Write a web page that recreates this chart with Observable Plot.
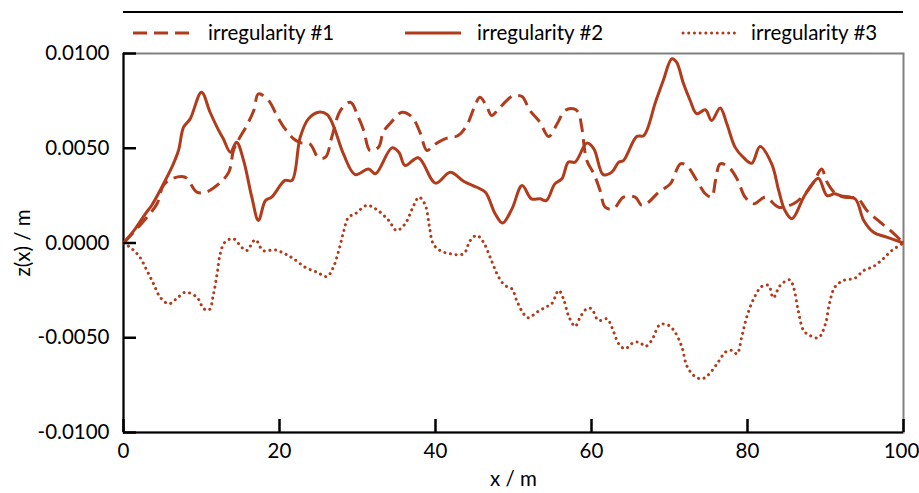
<!DOCTYPE html>
<html>
<head>
<meta charset="utf-8">
<script src="https://cdn.jsdelivr.net/npm/d3@7"></script>
<script src="https://cdn.jsdelivr.net/npm/@observablehq/plot@0.6"></script>
<style>
  html, body { margin: 0; padding: 0; background: #fff; }
  #wrap { position: relative; width: 919px; height: 493px; }
  #legend { position: absolute; left: 0; top: 0; }
  #chart { position: absolute; left: 0; top: 0; }
  svg { font-family: Lato, "Open Sans", sans-serif; }
</style>
</head>
<body>
<div id="wrap">
<div id="chart"></div>
<div id="legend"></div>
</div>
<script>
// ---- data (x in m, z in m) ----
const seriesNames = ["irregularity #1", "irregularity #2", "irregularity #3"];

const x1 = [0, 1.3, 3.0, 4.3, 5.1, 6.2, 7.9, 9.4, 10.55, 12.2, 13.5, 14.1, 14.7, 15.8, 16.7, 17.3, 18.6, 19.65, 20.7, 21.8, 22.65, 23.9, 25.0, 25.9, 26.7, 27.8, 29.1, 30.1, 30.8, 31.6, 32.7, 33.3, 34.2, 35.7, 37.0, 38.0, 38.9, 39.7, 41.2, 42.9, 44.0, 44.9, 45.7, 46.6, 47.2, 48.1, 49.6, 50.2, 51.1, 52.1, 53.4, 54.5, 55.6, 56.6, 57.7, 58.3, 58.75, 59.4, 60.3, 61.1, 61.75, 62.8, 64.1, 65.6, 66.45, 67.3, 68.6, 70.1, 71.4, 72.2, 73.5, 74.6, 75.4, 75.9, 76.5, 77.6, 78.65, 79.7, 80.8, 82.3, 84.0, 85.9, 87.4, 88.5, 89.5, 90.2, 91.45, 93.2, 94.2, 95.3, 97.0, 98.3, 100];
const z1 = [0, 0.00057, 0.00136, 0.00207, 0.00303, 0.00339, 0.00347, 0.00268, 0.00268, 0.00312, 0.00374, 0.00488, 0.00541, 0.0062, 0.00699, 0.00787, 0.00752, 0.00673, 0.00603, 0.0055, 0.00530, 0.00523, 0.00450, 0.00453, 0.00558, 0.00699, 0.00743, 0.00664, 0.00594, 0.00488, 0.00506, 0.00585, 0.00632, 0.0069, 0.00664, 0.00585, 0.00488, 0.00515, 0.0055, 0.00567, 0.0062, 0.00708, 0.00769, 0.00717, 0.00673, 0.00708, 0.00769, 0.00778, 0.00773, 0.00699, 0.00637, 0.00562, 0.00629, 0.00699, 0.00708, 0.0069, 0.00611, 0.00435, 0.00365, 0.00277, 0.00189, 0.0018, 0.00242, 0.00242, 0.00198, 0.00215, 0.00268, 0.00312, 0.00418, 0.00409, 0.0033, 0.0026, 0.00242, 0.0033, 0.00418, 0.004, 0.00339, 0.00242, 0.00207, 0.00242, 0.00189, 0.00207, 0.0026, 0.00321, 0.0039, 0.00321, 0.00256, 0.00242, 0.00233, 0.00172, 0.0011, 0.00066, 0];

const x2 = [0, 1.5, 2.8, 3.6, 4.9, 6.2, 7.05, 7.7, 8.55, 10.0, 11.1, 12.2, 12.8, 13.7, 14.5, 15.4, 16.45, 17.3, 18.2, 19.0, 20.7, 21.6, 22.65, 23.7, 25.0, 26.1, 26.9, 28.2, 29.7, 31.4, 32.3, 34.4, 35.3, 36.1, 37.8, 40.0, 41.9, 43.6, 45.3, 46.4, 47.65, 48.6, 49.8, 51.1, 52.3, 53.4, 54.2, 55.3, 56.2, 57.05, 57.9, 59.4, 60.3, 61.5, 62.6, 63.5, 64.1, 65.8, 66.7, 68.2, 69.2, 70.3, 70.9, 71.8, 72.65, 73.5, 74.6, 75.4, 76.5, 77.35, 78.4, 79.5, 80.55, 81.6, 83.1, 84.0, 84.8, 85.7, 87.2, 88.3, 89.1, 90.2, 91.2, 92.3, 93.8, 94.9, 96.15, 97.85, 100];
const z2 = [0, 0.00075, 0.00154, 0.00198, 0.00294, 0.0040, 0.00488, 0.00611, 0.00655, 0.00796, 0.0069, 0.00594, 0.0055, 0.00479, 0.00532, 0.00435, 0.00242, 0.00119, 0.00224, 0.00242, 0.0033, 0.0033, 0.00558, 0.00655, 0.0069, 0.00678, 0.0062, 0.0047, 0.00361, 0.0039, 0.00365, 0.00502, 0.00479, 0.00409, 0.0045, 0.00316, 0.00374, 0.00326, 0.00294, 0.00268, 0.00154, 0.00105, 0.0018, 0.00303, 0.00233, 0.00233, 0.00224, 0.00312, 0.00339, 0.00427, 0.00427, 0.00527, 0.00497, 0.00361, 0.00374, 0.00427, 0.00435, 0.00562, 0.00567, 0.00743, 0.00858, 0.00972, 0.00954, 0.0084, 0.00752, 0.00682, 0.00703, 0.00646, 0.00713, 0.00629, 0.00506, 0.0045, 0.00421, 0.00509, 0.00418, 0.00277, 0.00172, 0.00128, 0.00242, 0.00312, 0.00342, 0.0025, 0.0026, 0.00242, 0.00233, 0.00119, 0.00057, 0.00031, 0];

const x3 = [0, 1.1, 2.1, 3.0, 3.85, 4.7, 5.8, 6.8, 7.9, 9.4, 10.3, 11.0, 11.5, 12.0, 12.4, 13.0, 14.1, 15.2, 15.8, 16.9, 17.9, 19.4, 20.7, 21.8, 23.3, 24.8, 26.1, 26.9, 27.6, 28.2, 28.85, 29.7, 31.2, 32.5, 34.0, 35.0, 36.1, 37.2, 37.9, 38.7, 39.2, 39.7, 40.6, 41.9, 43.6, 44.45, 45.3, 46.15, 47.0, 48.1, 48.9, 49.8, 50.4, 51.3, 51.9, 53.0, 54.1, 54.9, 55.8, 56.4, 57.05, 57.9, 58.55, 59.4, 60.0, 60.9, 62.0, 62.6, 63.5, 64.3, 65.4, 66.2, 66.9, 67.7, 68.8, 69.9, 70.7, 71.6, 72.2, 73.1, 74.1, 74.9, 76.1, 77.2, 78.0, 78.65, 79.3, 79.9, 80.8, 81.8, 82.7, 83.3, 84.2, 85.4, 85.9, 86.5, 87.2, 88.0, 89.1, 90.0, 90.5, 91.2, 92.3, 93.8, 94.9, 96.15, 97.4, 98.5, 100];
const z3 = [0, -0.00031, -0.00075, -0.00145, -0.00215, -0.00286, -0.00321, -0.00294, -0.0026, -0.00286, -0.00347, -0.00352, -0.00277, -0.00163, -0.00057, 0.00004, 0.00022, -0.00025, -0.0004, 0.00017, -0.0004, -0.00036, -0.00057, -0.00083, -0.00128, -0.00154, -0.00177, -0.00128, -0.0004, 0.00057, 0.00136, 0.00154, 0.00198, 0.00175, 0.00119, 0.00066, 0.00101, 0.00198, 0.00242, 0.00198, 0.00092, -0.00004, -0.0004, -0.00057, -0.00057, 0.00013, 0.0004, 0.00004, -0.00075, -0.0018, -0.00224, -0.00242, -0.00303, -0.00374, -0.00395, -0.00365, -0.00339, -0.00321, -0.0025, -0.00294, -0.00383, -0.0044, -0.00391, -0.00347, -0.00347, -0.00409, -0.004, -0.00444, -0.00532, -0.00558, -0.00525, -0.00525, -0.00546, -0.00515, -0.0043, -0.00435, -0.0047, -0.0055, -0.00646, -0.00699, -0.00717, -0.00699, -0.00637, -0.00575, -0.00567, -0.00585, -0.00488, -0.00391, -0.00294, -0.0023, -0.00224, -0.00289, -0.00224, -0.00194, -0.00233, -0.00356, -0.00462, -0.00488, -0.005, -0.00426, -0.0032, -0.00233, -0.00198, -0.00185, -0.00145, -0.00124, -0.00083, -0.0004, 0];

const xTicks = [0, 20, 40, 60, 80, 100];
const yTicks = [-0.01, -0.005, 0, 0.005, 0.01];

// ---- styles ----
const color = "#b13b1b";
const fontFamily = "Lato, 'Open Sans', sans-serif";
const fontSize = 20.5;
const dash = ["14,7", null, "0.1,5.6"];
const widths = [3, 3, 3];
const W = 919, H = 493;
const mL = 123, mR = 16, mT = 53, mB = 61;
const tickLen = 13;
const frameW = W - mL - mR, frameH = H - mT - mB;

const toRows = (xs, zs) => xs.map((x, i) => ({x, z: zs[i]}));
const rows = [toRows(x1, z1), toRows(x2, z2), toRows(x3, z3)];
const xDom = [xTicks[0], xTicks[xTicks.length - 1]];
const yDom = [yTicks[0], yTicks[yTicks.length - 1]];
const xTickSpan = (xDom[1] - xDom[0]) * tickLen / frameW;
const yTickSpan = (yDom[1] - yDom[0]) * tickLen / frameH;

// ---- legend (overlay at the top) ----
const leg = d3.select("#legend").append("svg").attr("width", W).attr("height", 48)
  .style("font-family", fontFamily).style("font-size", fontSize + "px");
leg.append("line").attr("x1", mL).attr("x2", W - mR).attr("y1", 12).attr("y2", 12)
  .attr("stroke", "#000").attr("stroke-width", 2);
const legItems = [
  {s0: 133, s1: 191, tx: 208},
  {s0: 405, s1: 461, tx: 477},
  {s0: 683, s1: 736, tx: 751}
];
legItems.forEach((it, i) => {
  leg.append("line").attr("x1", it.s0).attr("x2", it.s1).attr("y1", 33).attr("y2", 33)
    .attr("stroke", color).attr("stroke-width", widths[i])
    .attr("stroke-dasharray", dash[i])
    .attr("stroke-linecap", i === 2 ? "round" : "butt");
  leg.append("text").attr("x", it.tx).attr("y", 33).attr("dy", "0.35em")
    .attr("fill", "#000").text(seriesNames[i]);
});

// ---- chart ----
const chart = Plot.plot({
  width: W,
  height: H,
  marginLeft: mL,
  marginRight: mR,
  marginTop: mT,
  marginBottom: mB,
  style: {fontFamily, fontSize: fontSize + "px"},
  x: {domain: xDom, label: null},
  y: {domain: yDom, label: null},
  marks: [
    Plot.frame({stroke: "#808080", strokeWidth: 2}),
    Plot.ruleX([xDom[0]], {stroke: "black", strokeWidth: 2}),
    Plot.ruleY([yDom[0]], {stroke: "black", strokeWidth: 2}),
    Plot.axisX(xTicks.filter(d => d !== xDom[1]), {tickSize: 0, tickPadding: 11, tickFormat: d => String(d), fill: "black",
      label: "x / m", labelAnchor: "center", labelOffset: 53, labelArrow: "none"}),
    Plot.axisX([xDom[1]], {tickSize: 0, tickPadding: 11, tickFormat: d => String(d), fill: "black", dx: -2, label: null}),
    Plot.axisY(yTicks, {tickSize: 0, tickPadding: 14, tickFormat: d => d.toFixed(4), fill: "black",
      label: "z(x) / m", labelAnchor: "center", labelOffset: 108, labelArrow: "none"}),
    ...rows.map((data, i) => Plot.line(data, {
      x: "x", y: "z", curve: "catmull-rom", stroke: color, strokeWidth: widths[i],
      strokeDasharray: dash[i], strokeLinecap: i === 2 ? "round" : "butt", strokeLinejoin: "round"
    })),
    // inward tick marks, drawn last so nothing covers them
    Plot.ruleX(xTicks, {y1: yDom[0], y2: yDom[0] + yTickSpan, stroke: "black", strokeWidth: 2.5}),
    Plot.ruleY(yTicks, {x1: xDom[0], x2: xDom[0] + xTickSpan, stroke: "black", strokeWidth: 2.5})
  ]
});
document.getElementById("chart").appendChild(chart);
</script>
</body>
</html>
